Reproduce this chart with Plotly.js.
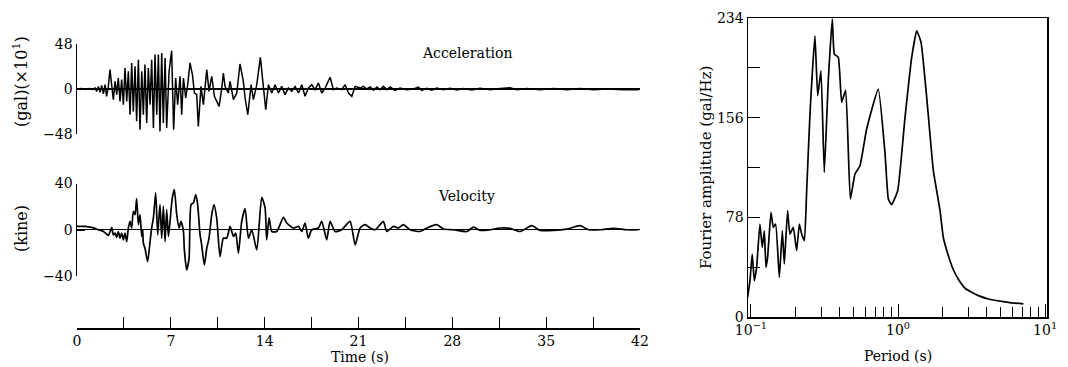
<!DOCTYPE html>
<html>
<head>
<meta charset="utf-8">
<script src="https://cdn.plot.ly/plotly-3.0.1.min.js"></script>
<style>
html,body{margin:0;padding:0;background:#fff;}
#chart{width:1068px;height:367px;}
</style>
</head>
<body>
<div id="chart"></div>
<script>
// Acceleration record (gal ×10)
const accT = [0,0.3,0.6,0.9,1.2,1.34,1.47,1.59,1.72,1.84,1.97,2.09,2.21,2.34,2.46,2.59,2.71,2.84,2.96,3.08,3.21,3.33,3.46,3.58,3.71,3.83,3.96,4.08,4.2,4.33,4.45,4.58,4.7,4.83,4.95,5.07,5.2,5.32,5.45,5.57,5.7,5.82,5.95,6.07,6.19,6.32,6.44,6.57,6.69,6.87,7.06,7.21,7.36,7.51,7.69,7.81,7.94,8.11,8.26,8.43,8.61,8.76,8.93,9.05,9.25,9.43,9.68,9.85,10.05,10.25,10.42,10.6,10.8,10.92,11.04,11.29,11.42,11.67,11.92,12.16,12.41,12.54,12.74,12.99,13.16,13.41,13.68,13.91,14.08,14.28,14.53,14.78,15.03,15.27,15.52,15.77,16.02,16.27,16.52,16.77,17.01,17.26,17.51,17.76,18.01,18.26,18.51,18.88,19.13,19.38,19.75,20.0,20.25,20.5,20.75,21.12,21.37,21.62,21.87,22.12,22.37,22.61,22.86,23.11,23.36,23.73,24.1,24.6,25.1,25.47,25.72,26.1,26.46,26.84,27.33,27.83,28.33,28.83,29.45,30.07,30.82,31.57,32.31,32.81,33.56,34.55,35.55,36.54,37.54,38.53,39.53,40.77,41.9];
const accV = [0,0.4,-0.4,0.6,-0.5,1.1,-2.5,2.8,-3.6,3.9,-5.3,4.6,-7.8,2.8,20.6,1,-11.4,8.2,-6,11.7,-13.2,10,-16.7,22.4,-13.2,18.9,-27.4,27.8,-23.9,24.2,-34.5,31.3,-43.4,18.9,-27.4,26,-36.3,22.4,-16.7,31.3,-41.7,36.7,-27.4,36.7,-45.2,38.4,-36.3,33.1,-41.7,18.9,40.9,-43.4,11.7,-16.7,13.5,-27.4,11.7,-9.6,4.6,27.8,15.3,-4.3,-6,-39.9,2.8,-16.7,20.6,-2.5,13.5,-7.8,-13.2,-18.5,1,17.1,2.8,-4.3,8.2,-11.4,-4.3,26.7,8.2,-9.6,-27.4,4.6,-11.4,4.6,33.8,-2.5,-22.1,4.6,-4.3,4.6,-4.3,2.8,-6,1,-2.5,2.8,-4.3,4.6,-7.8,1,4.6,-0.7,6.4,-4.3,1,12.5,-0.7,1,-0.7,4.6,-4.3,-7.8,2.8,1,2.8,0,2.1,-1.4,2.1,-0.7,2.8,-0.7,2.1,-1.4,1,-0.7,0,2.1,-1.4,0.7,-1.4,1,-0.7,0.7,-1,0.4,-1,0.7,-0.7,0.4,1.4,-0.7,0.4,-0.7,0.4,-0.7,0.4,-0.7,0,-0.7,-0.7];

// Velocity record (kine)
const velT = [0,0.6,1.09,1.59,1.97,2.21,2.34,2.46,2.59,2.71,2.84,2.96,3.08,3.21,3.33,3.46,3.58,3.71,3.83,3.96,4.08,4.2,4.33,4.45,4.58,4.7,4.83,4.9,4.95,5.07,5.27,5.45,5.57,5.7,5.87,6.02,6.19,6.32,6.44,6.57,6.69,6.82,6.94,7.11,7.26,7.44,7.61,7.76,7.94,8.01,8.18,8.36,8.51,8.68,8.86,9.0,9.18,9.3,9.5,9.68,9.85,10.05,10.22,10.42,10.67,10.92,11.17,11.42,11.67,11.84,12.04,12.29,12.54,12.79,13.04,13.41,13.78,14.03,14.15,14.33,14.53,14.9,15.4,15.65,16.14,16.52,16.77,17.01,17.26,17.51,18.01,18.26,18.63,18.88,19.25,19.75,20.37,20.75,21.12,21.49,21.87,22.24,22.61,22.86,23.11,23.61,23.98,24.35,24.85,25.6,26.1,26.84,27.34,28.08,29.08,29.58,30.07,30.82,31.57,32.31,33.06,33.93,34.55,35.55,36.54,37.54,38.16,39.03,40.03,41.02,41.9];
const velV = [2.9,2.9,2,0,-1.5,-3.8,-4.9,-2,2,-4.4,-2.9,-6.7,-1.5,-7.3,-2.9,-8.7,-2.9,-10.2,1.5,7.3,1.5,16,13,27,4.4,13,-5.8,0,-11.6,-16,-27.6,-10.2,1.5,10.2,31.9,-4.4,21.8,-7.3,20.3,-10.2,17.4,-5.8,7.3,27.6,34.8,13,1.5,7.3,-1.5,-17.4,-34.8,-24.7,21.8,23.2,30.5,21.8,-4.4,-13,-30.5,-16,-7.3,13,21.8,10.2,-23.2,-7.3,-7.3,2.9,-5.8,-2.9,-20.3,7.3,18.3,-7.3,0,-17.4,28.1,18.9,-8.7,10.2,-1.5,-1.5,10.7,5.8,1.5,2.9,-1.5,5.8,-7.3,0,1.5,7.3,-8.7,7.3,-1.5,0,7.3,-13,1.5,4.4,1.5,0,4.4,7.3,-1.5,2.9,1.5,4.4,0,-1.5,1.5,4.4,0.6,0,-1.5,2.3,-0.6,0,1.5,1.2,-1.5,3.5,-0.6,-0.6,0.6,3.5,0,0,1.2,0,0];

// Fourier spectrum
const periodS = [0.0949,0.0985,0.102,0.1054,0.1093,0.1151,0.1194,0.1233,0.1265,0.1298,0.1368,0.1419,0.1472,0.156,0.1634,0.1686,0.1775,0.184,0.194,0.2046,0.2134,0.2213,0.2308,0.2393,0.252,0.2723,0.2843,0.2993,0.3153,0.3357,0.3573,0.369,0.3926,0.4139,0.4406,0.4742,0.5098,0.5514,0.612,0.734,0.8166,0.8596,0.905,0.9947,1.116,1.239,1.34,1.434,1.567,1.739,1.931,2.034,2.2,2.379,2.573,2.856,3.17,3.52,4.117,5.63,7.12];
const fourierAmp = [15.4,28.4,49.3,28.4,38.9,72.8,54.5,67.5,38.9,46.7,81.9,70.2,72.8,31.0,67.5,41.5,83.2,64.9,70.2,51.9,72.8,64.9,59.7,98.8,158.8,220.1,173.2,192.7,113.2,184.9,233.2,205.8,203.2,168.0,177.6,92.3,111.9,118.4,147.1,178.4,127.5,92.3,87.9,98.8,156.2,203.2,224.0,214.9,171.9,114.5,83.2,62.0,48.0,37.0,29.5,22.5,19.3,16.7,14.1,11.5,10.2];

// Tick values and labels
const timeMajor = [0,7,14,21,28,35,42];
const timeMinor = [3.5,10.5,17.5,24.5,31.5,38.5];
const ampMajor = [0,78,156,234];
const ampMinor = [39,117,195];
const perMajor = [0.1,1,10];
const perMajorLabels = ['10<sup>−1</sup>','10<sup>0</sup>','10<sup>1</sup>'];
const perMinor = [0.2,0.3,0.4,0.5,0.6,0.7,0.8,0.9,2,3,4,5,6,7,8,9];

const W = 1068, H = 367;
const fx = p => p / W;
const fy = p => (H - p) / H;
const FONT = 'DejaVu Serif, Liberation Serif, serif';
const tickFont = {family: FONT, size: 14, color: '#000'};

const traces = [
  {x: accT, y: accV, xaxis: 'x', yaxis: 'y', type: 'scatter', mode: 'lines',
   line: {color: '#000', width: 1.5}, hoverinfo: 'skip'},
  {x: velT, y: velV, xaxis: 'x2', yaxis: 'y2', type: 'scatter', mode: 'lines',
   line: {color: '#000', width: 1.7, shape: 'spline', smoothing: 0.6}, hoverinfo: 'skip'},
  {x: periodS, y: fourierAmp, xaxis: 'x3', yaxis: 'y3', type: 'scatter', mode: 'lines',
   line: {color: '#000', width: 1.7, shape: 'spline', smoothing: 0.4}, hoverinfo: 'skip'}
];

function ann(text, x, y, size, angle) {
  return {text: text, x: fx(x), y: fy(y), xref: 'paper', yref: 'paper', showarrow: false,
          xanchor: 'center', yanchor: 'middle', textangle: angle || 0,
          font: {family: FONT, size: size, color: '#000'}};
}

const layout = {
  width: W, height: H,
  margin: {l: 0, r: 0, t: 0, b: 0},
  paper_bgcolor: '#fff', plot_bgcolor: 'rgba(0,0,0,0)',
  showlegend: false,
  font: {family: FONT, color: '#000'},
  xaxis: {domain: [fx(77), fx(640)], range: [0, 42], anchor: 'y',
          showline: false, showgrid: false, zeroline: false, showticklabels: false, ticks: ''},
  yaxis: {domain: [fy(134), fy(44)], range: [-48, 48], anchor: 'x',
          showline: true, linecolor: '#000', linewidth: 1.5, showgrid: false,
          zeroline: true, zerolinecolor: '#000', zerolinewidth: 1.2,
          tickvals: [-48, 0, 48], ticks: 'inside', ticklen: 8, tickwidth: 1.5, tickcolor: '#000',
          tickfont: tickFont},
  xaxis2: {domain: [fx(77), fx(640)], range: [0, 42], anchor: 'free', position: fy(328),
           showline: true, linecolor: '#000', linewidth: 1.5, showgrid: false, zeroline: false,
           tickvals: timeMajor, ticks: 'inside', ticklen: 11, tickwidth: 1,
           tickcolor: '#000', tickfont: tickFont,
           minor: {tickvals: timeMinor, ticks: 'inside', ticklen: 11, tickwidth: 1, tickcolor: '#000', showgrid: false}},
  yaxis2: {domain: [fy(276), fy(183.5)], range: [-40, 40], anchor: 'x2',
           showline: true, linecolor: '#000', linewidth: 1.5, showgrid: false,
           zeroline: true, zerolinecolor: '#000', zerolinewidth: 1.2,
           tickvals: [-40, 0, 40], ticks: 'inside', ticklen: 8, tickwidth: 1.5, tickcolor: '#000',
           tickfont: tickFont},
  xaxis3: {domain: [fx(748), fx(1047)], type: 'log', range: [-1.02, 1.013], anchor: 'y3',
           showline: true, mirror: true, linecolor: '#000', linewidth: 1.5, showgrid: false, zeroline: false,
           tickvals: perMajor, ticktext: perMajorLabels, ticks: 'inside', ticklen: 13, tickwidth: 1,
           tickcolor: '#000', tickfont: tickFont,
           minor: {tickvals: perMinor, ticks: 'inside', ticklen: 10, tickwidth: 1, tickcolor: '#000', showgrid: false}},
  yaxis3: {domain: [fy(317), fy(18)], range: [0, 234], anchor: 'x3',
           showline: true, mirror: true, linecolor: '#000', linewidth: 1.5, showgrid: false, zeroline: false,
           tickvals: ampMajor, ticks: 'inside', ticklen: 12, tickwidth: 1,
           tickcolor: '#000', tickfont: tickFont,
           minor: {tickvals: ampMinor, ticks: 'inside', ticklen: 12, tickwidth: 1, tickcolor: '#000', showgrid: false}},
  annotations: [
    ann('Acceleration', 467, 53, 14),
    ann('Velocity', 466, 196, 14),
    ann('(gal)(×10<sup>1</sup>)', 21, 82, 16, -90),
    ann('(kine)', 21, 229, 16, -90),
    ann('Time (s)', 360, 357, 14),
    ann('Fourier amplitude (gal/Hz)', 706, 168, 15, -90),
    ann('Period (s)', 898, 356, 14)
  ]
};

Plotly.newPlot('chart', traces, layout, {staticPlot: true, displayModeBar: false});
</script>
</body>
</html>
